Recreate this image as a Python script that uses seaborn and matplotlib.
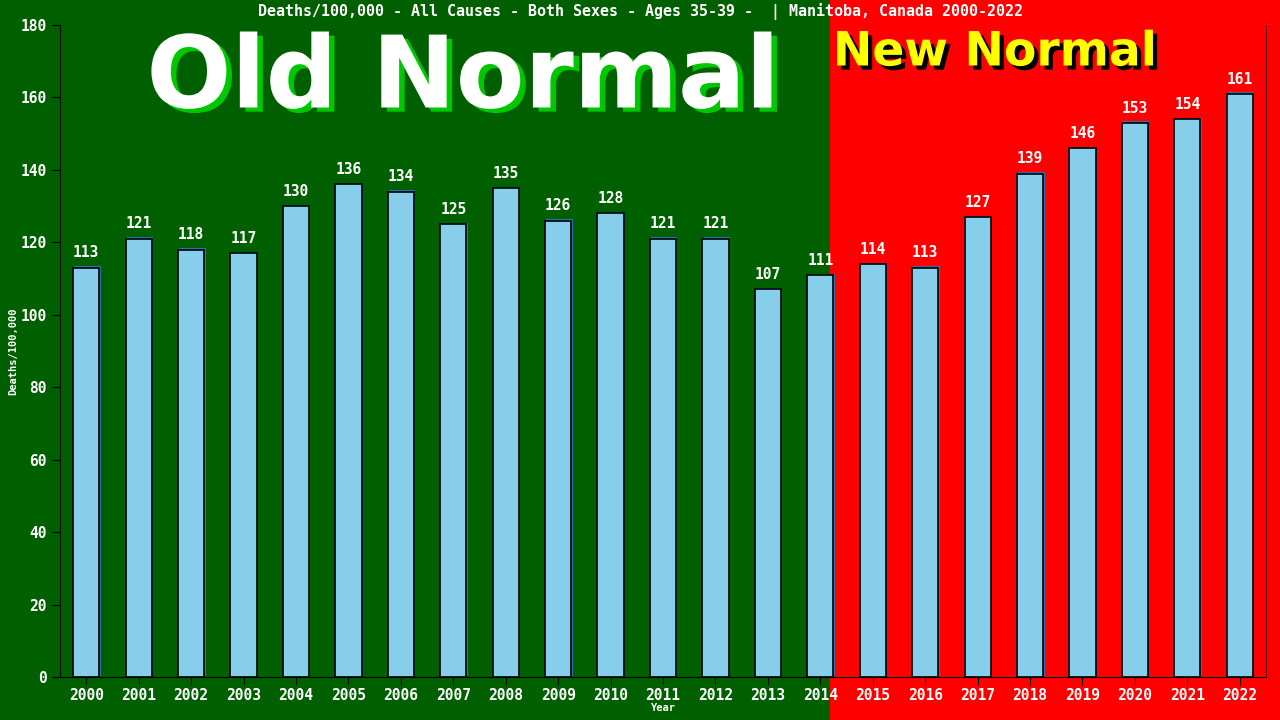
import numpy as np
import pandas as pd
import matplotlib
matplotlib.use("Agg")
import matplotlib.pyplot as plt
import matplotlib.patheffects as pe
from matplotlib.patches import Rectangle
import seaborn as sns

years = [str(y) for y in range(2000, 2023)]
deaths = [113, 121, 118, 117, 130, 136, 134, 125, 135, 126, 128, 121,
          121, 107, 111, 114, 113, 127, 139, 146, 153, 154, 161]
y_ticks = list(range(0, 181, 20))
title = "Deaths/100,000 - All Causes - Both Sexes - Ages 35-39 -  | Manitoba, Canada 2000-2022"

df = pd.DataFrame({"year": years, "deaths": deaths})

sns.set_style("ticks")
plt.rcParams["font.family"] = ["DejaVu Sans Mono", "DejaVu Sans"]

fig = plt.figure(figsize=(12.8, 7.2), dpi=100)
split = 830 / 1280
# green "old normal" and red "new normal" backgrounds
fig.add_artist(Rectangle((0, 0), split, 1, transform=fig.transFigure,
                         color="#006000", zorder=-10))
fig.add_artist(Rectangle((split, 0), 1 - split, 1, transform=fig.transFigure,
                         color="#ff0000", zorder=-10))

ax = fig.add_axes([60 / 1280, 43 / 720, 1206 / 1280, 652 / 720])
ax.set_facecolor("none")

sns.barplot(data=df, x="year", y="deaths", color="skyblue", saturation=1,
            edgecolor="black", linewidth=1.2, width=0.5, ax=ax)
for p in ax.patches:
    p.set_path_effects([pe.SimplePatchShadow(offset=(1, 1), shadow_rgbFace="#3070b0", alpha=1),
                        pe.Normal()])

for i, v in enumerate(deaths):
    ax.text(i, v + 2, str(v), color="white", fontsize=10.5, fontweight="bold",
            ha="center", va="bottom")

ax.set_xlim(-0.5, 22.5)
ax.set_ylim(0, 180)
ax.set_yticks(y_ticks)
ax.tick_params(colors="black", labelcolor="white", labelsize=10.5, length=6)
ax.tick_params(axis="x", pad=2)
for lab in ax.get_xticklabels() + ax.get_yticklabels():
    lab.set_fontweight("bold")
ax.set_xlabel("Year", color="white", fontsize=7.5, fontweight="bold")
ax.set_ylabel("Deaths/100,000", color="white", fontsize=7.5, fontweight="bold")
ax.xaxis.set_label_coords(0.5, -(703 - 677) / 652)
ax.yaxis.set_label_coords(-(60 - 18) / 1206, 0.5)
ax.spines["top"].set_visible(False)
ax.spines["right"].set_color("#600000")
ax.spines["left"].set_color("black")
ax.spines["bottom"].set_color("black")

fig.text(0.5, 1 - 12 / 720, title, color="white", fontsize=10.8, fontweight="bold",
         ha="center", va="center")

fig.text(463 / 1280, 1 - 80 / 720, "Old Normal", color="white", fontsize=72,
         fontweight="bold", family="DejaVu Sans", ha="center", va="center",
         path_effects=[pe.withSimplePatchShadow(offset=(4, -3), shadow_rgbFace="#00c800", alpha=1)])
fig.text(995 / 1280, 1 - 53 / 720, "New Normal", color="#ffff00", fontsize=34,
         fontweight="bold", family="DejaVu Sans", ha="center", va="center",
         path_effects=[pe.withSimplePatchShadow(offset=(3, -3), shadow_rgbFace="black", alpha=1)])

fig.savefig("out.png", dpi=100)
plt.close()
